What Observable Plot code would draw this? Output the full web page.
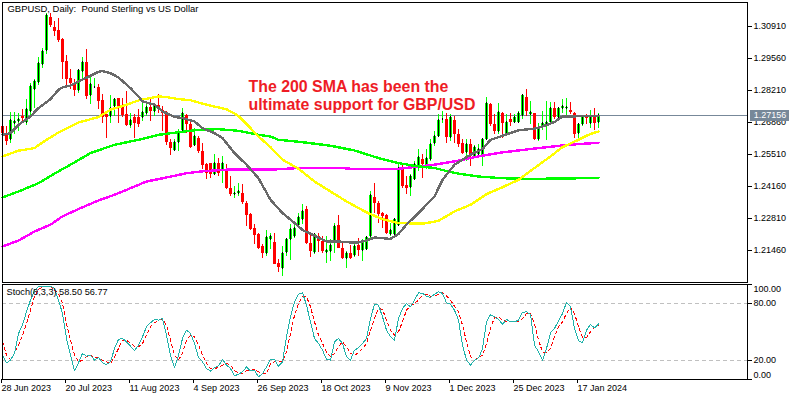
<!DOCTYPE html>
<html>
<head>
<meta charset="utf-8">
<script src="https://cdn.jsdelivr.net/npm/d3@7"></script>
<script src="https://cdn.jsdelivr.net/npm/@observablehq/plot@0.6"></script>
<style>
html,body{margin:0;padding:0;background:#fff;}
svg{display:block;background:#fff;}
</style>
</head>
<body>
<div id="chart"></div>
<script>
const high = [
1.2751,1.2669,1.2728,1.2728,1.2726,1.2740,1.2782,1.2852,1.2866,1.2962,
1.3000,1.3147,1.3145,1.3112,1.3126,1.3042,1.2967,1.2908,1.2869,1.2911,
1.2962,1.2996,1.2887,1.2873,1.2845,1.2806,1.2726,1.2799,1.2789,1.2789,
1.2789,1.2817,1.2726,1.2719,1.2740,1.2775,1.2768,1.2782,1.2768,1.2803,
1.2754,1.2733,1.2613,1.2613,1.2655,1.2747,1.2719,1.2690,1.2662,1.2627,
1.2599,1.2515,1.2515,1.2550,1.2536,1.2543,1.2508,1.2458,1.2416,1.2430,
1.2423,1.2353,1.2304,1.2255,1.2219,1.2170,1.2231,1.2219,1.2219,1.2107,
1.2163,1.2198,1.2255,1.2262,1.2301,1.2339,1.2332,1.2217,1.2219,1.2217,
1.2205,1.2205,1.2194,1.2259,1.2293,1.2177,1.2142,1.2166,1.2170,1.2198,
1.2191,1.2205,1.2395,1.2430,1.2353,1.2307,1.2297,1.2262,1.2283,1.2508,
1.2503,1.2458,1.2465,1.2522,1.2571,1.2550,1.2571,1.2613,1.2648,1.2719,
1.2733,1.2726,1.2719,1.2712,1.2655,1.2613,1.2613,1.2613,1.2588,1.2592,
1.2620,1.2793,1.2768,1.2719,1.2768,1.2730,1.2719,1.2726,1.2719,1.2733,
1.2806,1.2827,1.2775,1.2726,1.2681,1.2733,1.2775,1.2771,1.2771,1.2750,
1.2785,1.2789,1.2771,1.2728,1.2683,1.2712,1.2719,1.2735,1.2747,1.2726];
const low = [
1.2634,1.2589,1.2599,1.2634,1.2648,1.2690,1.2672,1.2709,1.2747,1.2841,
1.2915,1.2972,1.3088,1.3049,1.3024,1.2866,1.2841,1.2824,1.2796,1.2810,
1.2866,1.2782,1.2761,1.2831,1.2740,1.2683,1.2617,1.2683,1.2712,1.2683,
1.2709,1.2669,1.2662,1.2617,1.2667,1.2690,1.2712,1.2690,1.2712,1.2726,
1.2648,1.2589,1.2547,1.2564,1.2564,1.2648,1.2641,1.2578,1.2585,1.2557,
1.2487,1.2447,1.2451,1.2465,1.2458,1.2430,1.2402,1.2374,1.2367,1.2374,
1.2339,1.2247,1.2231,1.2170,1.2152,1.2111,1.2121,1.2149,1.2086,1.2055,
1.2037,1.2121,1.2104,1.2198,1.2240,1.2255,1.2170,1.2118,1.2128,1.2138,
1.2135,1.2090,1.2100,1.2135,1.2156,1.2110,1.2072,1.2107,1.2118,1.2121,
1.2100,1.2146,1.2198,1.2304,1.2262,1.2240,1.2212,1.2205,1.2198,1.2248,
1.2409,1.2381,1.2374,1.2444,1.2480,1.2451,1.2487,1.2522,1.2585,1.2624,
1.2683,1.2599,1.2606,1.2599,1.2582,1.2550,1.2522,1.2501,1.2536,1.2536,
1.2501,1.2613,1.2669,1.2634,1.2634,1.2620,1.2634,1.2669,1.2681,1.2683,
1.2700,1.2712,1.2676,1.2610,1.2606,1.2653,1.2610,1.2676,1.2698,1.2698,
1.2726,1.2712,1.2719,1.2620,1.2613,1.2669,1.2676,1.2662,1.2653,1.2662];
const open = [
1.2669,1.2630,1.2616,1.2681,1.2690,1.2712,1.2686,1.2733,1.2827,1.2855,
1.2930,1.2990,1.3131,1.3086,1.3073,1.3035,1.2944,1.2870,1.2852,1.2821,
1.2901,1.2941,1.2799,1.2832,1.2835,1.2778,1.2719,1.2712,1.2754,1.2786,
1.2757,1.2719,1.2675,1.2705,1.2705,1.2705,1.2726,1.2750,1.2733,1.2757,
1.2737,1.2723,1.2602,1.2568,1.2602,1.2652,1.2714,1.2676,1.2588,1.2620,
1.2564,1.2508,1.2512,1.2465,1.2512,1.2487,1.2487,1.2409,1.2382,1.2385,
1.2385,1.2343,1.2297,1.2240,1.2212,1.2163,1.2132,1.2191,1.2180,1.2090,
1.2072,1.2138,1.2191,1.2203,1.2252,1.2276,1.2318,1.2174,1.2138,1.2203,
1.2184,1.2139,1.2142,1.2184,1.2250,1.2156,1.2114,1.2135,1.2124,1.2166,
1.2146,1.2149,1.2203,1.2370,1.2346,1.2301,1.2293,1.2212,1.2212,1.2252,
1.2487,1.2419,1.2413,1.2447,1.2501,1.2532,1.2498,1.2529,1.2599,1.2627,
1.2698,1.2700,1.2624,1.2695,1.2634,1.2596,1.2560,1.2592,1.2543,1.2550,
1.2543,1.2616,1.2761,1.2676,1.2648,1.2726,1.2641,1.2698,1.2686,1.2686,
1.2714,1.2793,1.2719,1.2726,1.2616,1.2669,1.2676,1.2686,1.2747,1.2709,
1.2743,1.2743,1.2735,1.2726,1.2638,1.2676,1.2712,1.2683,1.2709,1.2688];
const close = [
1.2638,1.2606,1.2695,1.2690,1.2700,1.2702,1.2742,1.2838,1.2859,1.2934,
1.2986,1.3136,1.3094,1.3070,1.3032,1.2939,1.2869,1.2849,1.2821,1.2904,
1.2941,1.2796,1.2848,1.2835,1.2775,1.2709,1.2709,1.2747,1.2785,1.2754,
1.2716,1.2672,1.2695,1.2681,1.2676,1.2728,1.2750,1.2733,1.2757,1.2742,
1.2723,1.2602,1.2575,1.2602,1.2641,1.2723,1.2676,1.2582,1.2627,1.2564,
1.2503,1.2472,1.2465,1.2512,1.2472,1.2512,1.2409,1.2381,1.2388,1.2395,
1.2349,1.2292,1.2236,1.2208,1.2156,1.2132,1.2202,1.2203,1.2086,1.2076,
1.2135,1.2194,1.2236,1.2240,1.2287,1.2311,1.2174,1.2142,1.2212,1.2184,
1.2142,1.2146,1.2166,1.2248,1.2156,1.2114,1.2132,1.2114,1.2163,1.2146,
1.2180,1.2201,1.2378,1.2343,1.2297,1.2290,1.2219,1.2229,1.2276,1.2494,
1.2416,1.2409,1.2458,1.2508,1.2540,1.2508,1.2536,1.2592,1.2627,1.2695,
1.2700,1.2624,1.2709,1.2634,1.2592,1.2557,1.2592,1.2546,1.2582,1.2574,
1.2616,1.2765,1.2676,1.2648,1.2730,1.2683,1.2688,1.2688,1.2705,1.2723,
1.2799,1.2733,1.2730,1.2616,1.2655,1.2683,1.2686,1.2744,1.2709,1.2743,
1.2754,1.2751,1.2728,1.2634,1.2676,1.2705,1.2703,1.2712,1.2683,1.27156];

const sma20Bar = [0,2,4,7,9,12,14,15,17,19,22,24,25,27,29,32,34,35,38,40,43,45,48,50,53,55,58,61,64,67,70,73,75,78,81,84,87,89,91,93,97,99,101,104,108,110,113,117,120,122,125,129,133,135,138,140,143,149];
const sma20 = [1.2634,1.2641,1.2676,1.2712,1.2747,1.2785,1.2824,1.2834,1.2842,1.2859,1.2883,1.2900,1.2903,1.2894,1.2876,1.2831,1.2796,1.2775,1.2761,1.2733,1.2709,1.2705,1.2690,1.2662,1.2641,1.2620,1.2557,1.2508,1.2451,1.2360,1.2304,1.2262,1.2233,1.2208,1.2184,1.2184,1.2180,1.2180,1.2188,1.2201,1.2195,1.2216,1.2255,1.2304,1.2374,1.2444,1.2508,1.2550,1.2574,1.2613,1.2630,1.2653,1.2660,1.2669,1.2688,1.2712,1.2712,1.2714];

const sma50Bar = [0,4,8,10,14,19,24,27,31,34,39,41,44,47,51,56,59,62,64,67,70,74,78,82,86,91,95,99,105,109,113,117,121,125,129,133,137,140,144,147,149];
const sma50 = [1.2543,1.2567,1.2578,1.2602,1.2644,1.2686,1.2709,1.2740,1.2761,1.2779,1.2796,1.2793,1.2785,1.2780,1.2761,1.2742,1.2714,1.2662,1.2627,1.2582,1.2529,1.2491,1.2437,1.2395,1.2353,1.2307,1.2278,1.2262,1.2259,1.2271,1.2311,1.2339,1.2384,1.2413,1.2444,1.2494,1.2543,1.2582,1.2613,1.2638,1.2648];

const sma100Bar = [0,4,9,14,17,22,28,34,39,44,49,54,59,64,67,69,75,82,88,94,99,103,108,113,119,125,131,142,149];
const sma100 = [1.2370,1.2395,1.2430,1.2480,1.2508,1.2557,1.2592,1.2613,1.2634,1.2645,1.2655,1.2658,1.2651,1.2634,1.2627,1.2613,1.2603,1.2588,1.2568,1.2536,1.2515,1.2503,1.2494,1.2473,1.2458,1.2451,1.2448,1.2450,1.2453];

const sma200Bar = [0,4,8,12,15,19,24,28,32,36,41,46,50,56,67,74,85,88,98,103,108,113,119,125,132,134,140,144,149];
const sma200 = [1.2163,1.2188,1.2226,1.2255,1.2290,1.2321,1.2357,1.2381,1.2409,1.2437,1.2454,1.2472,1.2480,1.2487,1.2487,1.2494,1.2494,1.2489,1.2489,1.2498,1.2508,1.2522,1.2543,1.2560,1.2574,1.2578,1.2589,1.2595,1.2600];

const stochK = [
25.6,17.6,20.4,27.4,48.4,57.2,71.3,83.5,94.1,97.6,
98.3,98.3,98.3,95.8,83.5,69.5,43.2,25.6,9.1,17.6,
27.4,24.6,25.6,20.4,23.2,17.6,15.8,18.6,32.6,42.1,
43.2,39.7,35.1,30.2,36.2,44.9,55.5,59.7,63.2,62.5,
64.2,46.7,25.6,12.3,25.6,43.2,52.0,48.4,37.9,23.2,
18.6,11.6,8.8,12.6,14.4,21.1,15.1,11.6,3.9,5.6,
8.1,13.3,9.1,9.8,2.8,6.3,13.3,21.1,21.1,14.0,
18.6,44.9,66.0,81.8,89.9,91.3,78.3,60.7,43.2,37.9,
30.9,21.1,20.4,39.7,43.2,37.9,23.9,20.4,30.9,33.3,
37.9,43.2,64.2,79.3,78.3,66.0,52.0,44.9,41.4,64.2,
74.8,80.0,76.5,83.5,91.3,90.6,87.8,86.3,89.9,92.3,
90.6,80.7,79.3,73.0,62.5,36.2,20.4,15.1,20.4,22.1,
32.6,60.7,68.4,66.0,63.2,58.3,63.2,60.7,60.7,62.5,
70.6,71.3,68.4,36.2,29.1,20.4,32.6,49.1,53.7,61.8,
69.5,81.1,76.5,53.7,40.7,39.0,52.0,57.9,54.4,58.5];
const stochD = [
39.7,25.6,21.1,27.4,36.2,46.7,59.0,73.0,87.1,94.8,
97.6,98.3,97.6,94.1,90.6,80.0,59.0,41.4,25.6,18.6,
20.4,23.9,25.6,23.2,23.2,20.4,18.6,16.9,23.9,32.6,
41.4,41.4,37.9,35.1,34.4,37.9,46.7,55.5,59.7,62.5,
63.2,57.2,41.4,25.6,20.4,27.4,41.4,46.7,44.9,36.2,
25.6,16.9,11.6,11.6,12.6,15.1,16.9,15.1,9.1,7.0,
6.3,9.1,9.8,10.5,8.1,6.3,6.3,16.9,18.6,18.6,
18.6,29.1,48.4,67.7,80.0,87.1,87.1,76.5,60.7,46.7,
37.9,29.1,23.9,27.4,34.4,39.7,34.4,27.4,25.6,28.1,
32.6,37.9,52.0,64.2,74.8,73.7,62.5,52.0,46.7,50.2,
60.7,73.0,77.2,80.0,83.5,88.8,89.9,87.8,88.1,89.5,
91.3,87.8,83.5,77.2,71.3,57.2,39.7,23.9,20.4,23.2,
25.6,37.9,53.7,65.3,66.0,62.5,60.7,60.7,60.7,60.7,
64.2,69.5,69.5,59.0,41.4,29.1,28.1,32.6,44.9,55.5,
60.7,69.5,75.8,69.5,55.5,44.2,44.2,50.2,54.8,56.77];

const priceTicks = [1.3091,1.2956,1.2821,1.2686,1.2551,1.2416,1.2281,1.2146];
const lastPrice = 1.27156;
const stochInnerTicks = [80,20];
const dateTickBars = [0,16,32,48,64,80,96,112,128,144];
const dateLabels = ["28 Jun 2023","20 Jul 2023","11 Aug 2023","4 Sep 2023","26 Sep 2023","18 Oct 2023","9 Nov 2023","1 Dec 2023","25 Dec 2023","17 Jan 2024"];
const chartTitle = "GBPUSD, Daily:\u00a0 Pound Sterling vs US Dollar";
const stochTitle = "Stoch(8,3,3) 58.50 56.77";
const note = "The 200 SMA has been the\nultimate support for GBP/USD";

const FONT = "'Liberation Sans', Arial, sans-serif";
const FS = 9;
const GREEN = "#00ff00", RED = "#ff0000";
const bars = d3.range(high.length).map(i => ({i, h: high[i], l: low[i], o: open[i], c: close[i], up: close[i] >= open[i]}));
const series = (xs, ys) => xs.map((x, k) => ({x, y: ys[k]}));
const crisp = {shapeRendering: "crispEdges"};
const xScale = {domain: [0, 149], range: [2, 598]};

const main = Plot.plot({
  width: 800, height: 283,
  marginLeft: 2, marginRight: 53, marginTop: 2, marginBottom: 1,
  style: {fontFamily: FONT, fontSize: FS + "px", background: "#fff", color: "#000"},
  x: {...xScale, axis: null},
  y: {domain: [1.2146, 1.3091], range: [250, 26], axis: null},
  marks: [
    Plot.axisY({anchor: "right", ticks: priceTicks, tickFormat: d3.format(".5f"), tickSize: 4, tickPadding: 2, label: null, fontSize: FS, stroke: "#000"}),
    Plot.ruleY([lastPrice], {stroke: "#778899", strokeWidth: 1, ...crisp}),
    Plot.ruleX(bars, {x: "i", y1: "l", y2: "h", stroke: d => d.up ? GREEN : RED, strokeWidth: 1, ...crisp}),
    Plot.ruleX(bars, {x: "i", y1: "o", y2: "c", stroke: d => d.up ? GREEN : RED, strokeWidth: 3, ...crisp}),
    Plot.ruleX(bars.filter(d => d.up), {x: "i", y1: "o", y2: "c", stroke: "#000", strokeWidth: 1, insetTop: 1, insetBottom: 1, ...crisp}),
    Plot.line(series(sma200Bar, sma200), {x: "x", y: "y", stroke: "#ff00ff", strokeWidth: 2.4, ...crisp}),
    Plot.line(series(sma100Bar, sma100), {x: "x", y: "y", stroke: "#00ff00", strokeWidth: 2.4, ...crisp}),
    Plot.line(series(sma50Bar, sma50), {x: "x", y: "y", stroke: "#ffff00", strokeWidth: 2.4, ...crisp}),
    Plot.line(series(sma20Bar, sma20), {x: "x", y: "y", stroke: "#696969", strokeWidth: 2.4, ...crisp}),
    Plot.ruleY([lastPrice], {x1: 187, x2: 196.75, stroke: "#778899", strokeWidth: 11, ...crisp}),
    Plot.text([lastPrice], {x: 191.9, y: d => d, text: d => d3.format(".5f")(d), fill: "#fff", fontSize: FS, textAnchor: "middle"}),
    Plot.text([note], {x: 61.5, y: 1.2872, text: d => d, fill: "#ee1c25", fontSize: 15.9, fontWeight: "bold", textAnchor: "start", lineAnchor: "top", lineHeight: 1.16}),
    Plot.text([chartTitle], {frameAnchor: "top-left", dx: 5, dy: 3, text: d => d, fill: "#000", fontSize: 9.45, textAnchor: "start", lineAnchor: "top"}),
    Plot.frame({stroke: "#000", strokeWidth: 1})
  ]
});

const lower = Plot.plot({
  width: 800, height: 117,
  marginLeft: 2, marginRight: 53, marginTop: 1, marginBottom: 21,
  style: {fontFamily: FONT, fontSize: FS + "px", background: "#fff", color: "#000"},
  x: {...xScale, axis: null},
  y: {domain: [0, 100], axis: null},
  marks: [
    Plot.ruleY(stochInnerTicks, {stroke: "#c0c0c0", strokeDasharray: "4,3", strokeWidth: 1, ...crisp}),
    Plot.line(stochD, {x: (d, i) => i, y: d => d, stroke: "#ff0000", strokeWidth: 1, strokeDasharray: "3,3", ...crisp}),
    Plot.line(stochK, {x: (d, i) => i, y: d => d, stroke: "#20b2aa", strokeWidth: 1, ...crisp}),
    Plot.text([stochTitle], {frameAnchor: "top-left", dx: 4, dy: 4, text: d => d, fill: "#000", fontSize: 9.2, textAnchor: "start", lineAnchor: "top"}),
    Plot.axisY({anchor: "right", ticks: [100, 80, 20, 0], tickFormat: d => stochInnerTicks.includes(d) ? d3.format(".2f")(d) : "", tickSize: 4, tickPadding: 2, label: null, fontSize: FS, stroke: "#000"}),
    Plot.axisY({anchor: "right", ticks: [100], tickFormat: d3.format(".2f"), tickSize: 0, tickPadding: 6, label: null, fontSize: FS, dy: 4.5}),
    Plot.axisY({anchor: "right", ticks: [0], tickFormat: d3.format(".2f"), tickSize: 0, tickPadding: 6, label: null, fontSize: FS, dy: -4.5}),
    Plot.axisX({anchor: "bottom", ticks: dateTickBars, tickFormat: d => dateLabels[dateTickBars.indexOf(d)], tickSize: 4, tickPadding: 1, textAnchor: "start", label: null, fontSize: FS, dx: -1, stroke: "#000"}),
    Plot.frame({stroke: "#000", strokeWidth: 1})
  ]
});

const root = document.getElementById("chart");
root.appendChild(main);
root.appendChild(lower);
</script>
</body>
</html>
